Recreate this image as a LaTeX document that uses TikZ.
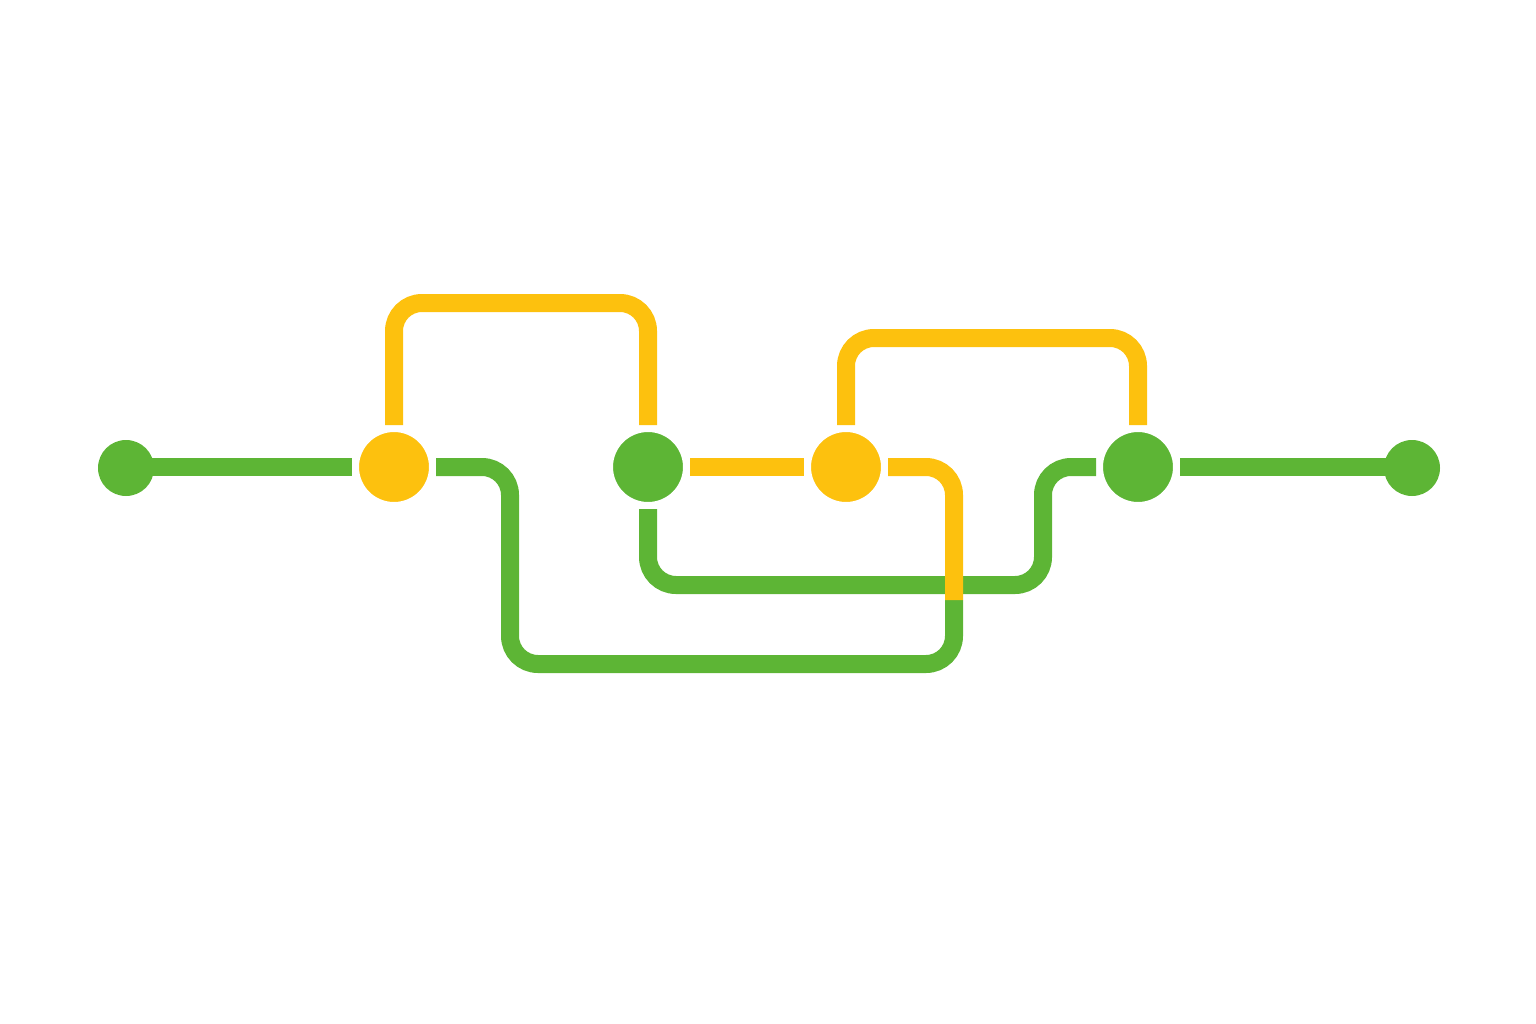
\documentclass[tikz,border=0pt]{standalone}
\usepackage{tikz}
\definecolor{linegreen}{HTML}{5DB535}
\definecolor{lineyellow}{HTML}{FDC10E}

\begin{document}
\begin{tikzpicture}[x=1pt, y=-1pt,
  station/.style={circle, minimum size=77pt, inner sep=0pt, draw=white, line width=7pt},
  enddot/.style={circle, minimum size=56pt, inner sep=0pt, fill=linegreen},
  gline/.style={draw=linegreen, line width=18pt, rounded corners=28pt},
  yline/.style={draw=lineyellow, line width=18pt, rounded corners=28pt}]
\useasboundingbox (0,0) rectangle (1536,1024);
%%%%% Stations %%%%%
\node[enddot] (start) at (126,468) {};
\node[station, fill=lineyellow] (y1) at (394,467) {};
\node[station, fill=linegreen] (g1) at (648,467) {};
\node[station, fill=lineyellow] (y2) at (846,467) {};
\node[station, fill=linegreen] (g2) at (1138,467) {};
\node[enddot] (stop) at (1412,468) {};
\coordinate (joint) at (954,600);
%%%%% Lines %%%%%
\draw[gline] (start.center |- y1) -- (y1.west);
\draw[yline] (y1.north) -- (y1 |- 0,303) -| (g1.north);
\draw[gline] (y1.east) -| (510,664) -| (joint);
\draw[gline] (g1.south) |- (1043,585) |- (g2.west);
\draw[yline] (y2.east) -| (joint);
\draw[yline] (g1.east) -- (y2.west);
\draw[yline] (y2.north) -- (y2 |- 0,338) -| (g2.north);
\draw[gline] (g2.east) -- (stop.center |- g2);
\end{tikzpicture}
\end{document}
